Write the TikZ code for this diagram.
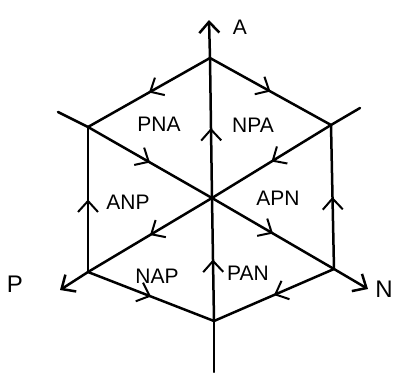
\documentclass[tikz,border=0pt]{standalone}
\usepackage{fontspec}
\setsansfont{Liberation Sans}
\usetikzlibrary{arrows.meta,decorations.markings}
\tikzstyle{edge}=[line width=2.5pt, line cap=round, line join=round]
\tikzstyle{flow}=[edge, postaction={decorate},
  decoration={markings, mark=at position .5 with {\arrow{Straight Barb[length=11pt,width=20pt,line width=2pt]}}}]
\tikzstyle{axis}=[edge, -{Straight Barb[length=11pt,width=20pt,line width=2.5pt]}]
\tikzstyle{l}=[draw=none, inner sep=0pt, font=\sffamily\fontsize{21}{21}\selectfont]

\begin{document}
\begin{tikzpicture}[x=1pt,y=-1pt]
\useasboundingbox (0,0) rectangle (396,372);
% hexagon corners, centre and axis ends
\foreach \n/\x/\y in {O/212/198, T/210/58, B/214/321, UL/88/127, UR/331/125,
  LL/88/272, LR/334/269, At/209/20, Be/214/372, ULe/58/112, URe/360/108,
  Pt/60/290, Nt/368/289}
  \coordinate (\n) at (\x,\y);
\foreach \f/\t in {T/UL, T/UR, O/T, UL/O, UR/O, LL/UL, LR/UR, O/LL, O/LR, B/O, LL/B, LR/B}
  \draw[flow] (\f) -- (\t);
\foreach \f/\t in {T/At, LL/Pt, LR/Nt}
  \draw[axis] (\f) -- (\t);
\foreach \f/\t in {B/Be, UL/ULe, UR/URe}
  \draw[edge] (\f) -- (\t);
% axis names
\node[l] (a) at (240,27) {A};
\node[l, font=\sffamily\fontsize{24}{24}\selectfont] (p) at (15,284) {P};
\node[l, font=\sffamily\fontsize{24}{24}\selectfont] (n) at (384,289) {N};
% sector labels
\foreach \s/\x/\y in {PNA/159/124, NPA/253/125, ANP/128/202, APN/278/198, NAP/157/276, PAN/248/273}
  \node[l] (\s) at (\x,\y) {\s};
\end{tikzpicture}
\end{document}
